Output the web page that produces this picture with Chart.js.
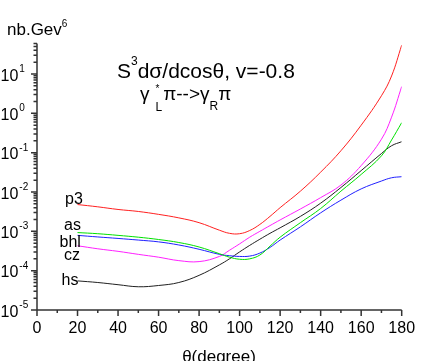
<!DOCTYPE html>
<html>
<head>
<meta charset="utf-8">
<script src="https://cdn.jsdelivr.net/npm/chart.js@4.4.1/dist/chart.umd.min.js"></script>
<style>
html,body{margin:0;padding:0;background:#fff;}
#wrap{width:439px;height:361px;position:relative;}
</style>
</head>
<body>
<div id="wrap"><canvas id="c" width="439" height="361"></canvas></div>
<script>
// ---- data ----
const theta = [20,30,40,50,60,70,80,90,95,100,105,110,115,120,130,140,150,160,170,175,180];
const p3  = [4.8e-3,4.2e-3,3.6e-3,3.2e-3,2.7e-3,2.2e-3,1.66e-3,1.07e-3,8.9e-4,8.7e-4,1.05e-3,1.5e-3,2.4e-3,4.0e-3,1.05e-2,3.2e-2,0.112,0.50,2.8,8.9,54];
const as  = [9.3e-4,8.7e-4,7.9e-4,7.1e-4,6.2e-4,5.2e-4,4.0e-4,2.7e-4,2.2e-4,1.95e-4,2.0e-4,2.5e-4,4.2e-4,7.1e-4,1.66e-3,3.8e-3,1.05e-2,2.8e-2,8.3e-2,0.21,0.58];
const bhl = [7.9e-4,7.2e-4,6.6e-4,6.0e-4,5.4e-4,4.5e-4,3.5e-4,2.6e-4,2.4e-4,2.3e-4,2.35e-4,2.8e-4,3.9e-4,6.0e-4,1.3e-3,2.95e-3,6.2e-3,1.2e-2,1.9e-2,2.3e-2,2.45e-2];
const cz  = [4.3e-4,3.6e-4,3.1e-4,2.6e-4,2.2e-4,1.8e-4,1.7e-4,2.3e-4,3.3e-4,4.8e-4,7.1e-4,1.0e-3,1.4e-3,1.95e-3,3.7e-3,7.2e-3,1.5e-2,4.7e-2,0.22,0.8,4.8];
const hs  = [5.5e-5,5.0e-5,4.4e-5,3.9e-5,4.2e-5,5.0e-5,7.6e-5,1.4e-4,2.0e-4,3.0e-4,4.4e-4,6.3e-4,8.9e-4,1.23e-3,2.4e-3,5.2e-3,1.3e-2,3.5e-2,9.5e-2,0.15,0.19];
const seriesNames = ['p3','as','bhl','cz','hs'];
const xTickStep = 20;
const xMin = 0, xMax = 180;
const yMin = 1e-5, yMax = 60;
const yExponents = [-5,-4,-3,-2,-1,0,1];

const FONT = '"Liberation Sans", Arial, Helvetica, sans-serif';
const colors = ['#ff2020','#00e000','#2020ff','#ff20ff','#202020'];
const seriesValues = [p3, as, bhl, cz, hs];

function pts(vals){ return theta.map((t,i)=>({x:t, y:vals[i]})); }

const datasets = seriesNames.map((n,i)=>({
  label:n, data:pts(seriesValues[i]), borderColor:colors[i], borderWidth:1,
  pointRadius:0, fill:false, tension:0.4
}));

// label positions (pixel annotations beside curve starts)
const labelPos = {p3:[65,203.5], as:[64,229.5], bhl:[59.5,246.5], cz:[64,259.5], hs:[61.5,285]};

function drawParts(ctx, x, y, parts){
  let cx = x;
  for (const p of parts){
    ctx.font = p.s + 'px ' + FONT;
    ctx.fillText(p.t, cx, y + (p.dy||0));
    if (!p.noAdvance) cx += ctx.measureText(p.t).width;
    if (p.gap) cx += p.gap;
  }
}

const deco = {
  id:'deco',
  afterDraw(chart){
    const ctx = chart.ctx, xs = chart.scales.x, ys = chart.scales.y;
    const L = xs.left, B = ys.bottom, R = xs.right, T = ys.top;
    ctx.save();
    ctx.strokeStyle = '#333';
    ctx.lineWidth = 1.5;
    ctx.beginPath();
    ctx.moveTo(L, T); ctx.lineTo(L, B);
    ctx.moveTo(L, B); ctx.lineTo(R, B);
    ctx.stroke();
    // x ticks
    ctx.beginPath();
    for (let v = xMin; v <= xMax; v += xTickStep/2){
      const px = xs.getPixelForValue(v);
      const len = (v % xTickStep === 0) ? 6 : 3;
      ctx.moveTo(px, B); ctx.lineTo(px, B + len);
    }
    // y ticks
    for (const e of yExponents){
      for (let m = 1; m <= 9; m++){
        const v = m * Math.pow(10, e);
        if (v > yMax * 1.0001) break;
        const py = ys.getPixelForValue(v);
        const len = (m === 1) ? 6 : 3.5;
        ctx.moveTo(L, py); ctx.lineTo(L - len, py);
      }
    }
    ctx.stroke();
    // y labels
    ctx.fillStyle = '#000';
    ctx.textBaseline = 'alphabetic';
    ctx.textAlign = 'left';
    for (const e of yExponents){
      const py = ys.getPixelForValue(Math.pow(10, e));
      ctx.font = '16px ' + FONT;
      ctx.fillText('10', 0.5, py + 6.5);
      const w = ctx.measureText('10').width;
      ctx.font = '10px ' + FONT;
      ctx.fillText(String(e), 0.5 + w + 1, py - 2);
    }
    // unit label
    drawParts(ctx, 7, 35, [{t:'nb.Gev', s:17}, {t:'6', s:10, dy:-8}]);
    // title lines
    drawParts(ctx, 117, 78, [{t:'S', s:21}, {t:'3', s:12, dy:-13}, {t:'d\u03c3/dcos\u03b8, v=-0.8', s:21}]);
    drawParts(ctx, 140, 100, [
      {t:'\u03b3', s:19, gap:6},
      {t:'*', s:10, dy:-8, noAdvance:true},
      {t:'L', s:12, dy:11, gap:1},
      {t:'\u03c0-->\u03b3', s:19},
      {t:'R', s:12, dy:10},
      {t:'\u03c0', s:19}
    ]);
    // x title
    ctx.font = '17px ' + FONT;
    ctx.textAlign = 'center';
    ctx.fillText('\u03b8(degree)', 219, 362);
    // series labels
    ctx.textAlign = 'left';
    ctx.font = '16px ' + FONT;
    for (const n of seriesNames){
      const p = labelPos[n];
      ctx.fillText(n, p[0], p[1]);
    }
    ctx.restore();
  }
};

new Chart(document.getElementById('c'), {
  type:'line',
  data:{datasets},
  options:{
    responsive:false,
    animation:false,
    events:[],
    layout:{padding:{top:43.4, right:37.3, left:0, bottom:0}},
    plugins:{legend:{display:false}, tooltip:{enabled:false}, title:{display:false}},
    scales:{
      x:{
        type:'linear', min:xMin, max:xMax,
        grid:{display:false, drawTicks:false},
        border:{display:false},
        ticks:{stepSize:xTickStep, font:{size:16, family:FONT}, color:'#000', padding:9, maxRotation:0, autoSkip:false},
        afterFit(s){ s.height = 51; }
      },
      y:{
        type:'logarithmic', min:yMin, max:yMax,
        grid:{display:false, drawTicks:false},
        border:{display:false},
        ticks:{display:false},
        afterFit(s){ s.width = 37; }
      }
    }
  },
  plugins:[deco]
});
</script>
</body>
</html>
